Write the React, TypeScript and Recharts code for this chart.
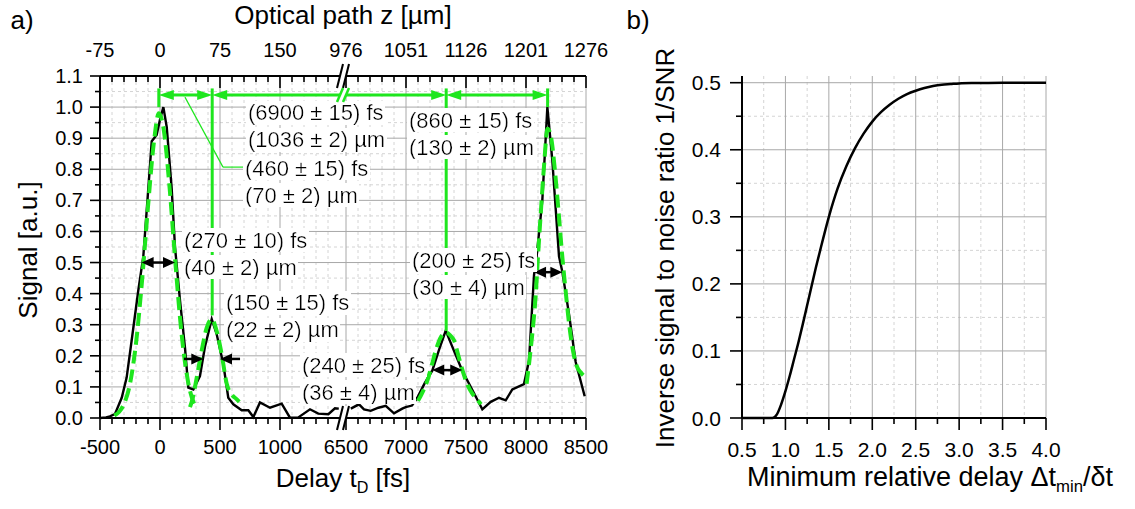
import React from "react";
import {
  CartesianGrid,
  Line,
  LineChart,
  ReferenceDot,
  ReferenceLine,
  XAxis,
  YAxis,
} from "recharts";

const FONT = "'Liberation Sans', Arial, Helvetica, sans-serif";
const GREEN = "#1ee61e";
const MAJOR_GRID = "#a8a8a8";
const MINOR_GRID = "#d4d4d4";

// ---- a) measured signal vs delay [fs], left of the axis break
const signalDelayLeft = [
  -495, -450, -417, -375, -319, -278, -236, -181, -139, -97, -69, -28, 0, 28, 56, 97, 125, 167,
  208, 236, 278, 333, 375, 431, 472, 528, 569, 611, 681, 736, 778, 833, 917, 1014, 1083, 1153,
  1250, 1319, 1403, 1458, 1490,
];
const signalValueLeft = [
  0, 0.002, 0.005, 0.013, 0.065, 0.13, 0.25, 0.41, 0.52, 0.74, 0.89, 0.91, 0.96, 1.0, 0.936, 0.74,
  0.55, 0.377, 0.227, 0.098, 0.092, 0.135, 0.23, 0.318, 0.27, 0.173, 0.065, 0.044, 0.025, 0.025,
  0.003, 0.05, 0.033, 0.046, 0.001, 0.002, 0.028, 0.014, 0.012, 0.031, 0.03,
];
// right of the axis break
const signalDelayRight = [
  6540, 6608, 6650, 6706, 6770, 6831, 6900, 6969, 6997, 7050, 7094, 7156, 7219, 7275, 7331, 7400,
  7469, 7553, 7636, 7706, 7775, 7831, 7886, 7983, 8025, 8067, 8086, 8136, 8178, 8219, 8275, 8303,
  8360, 8414, 8489,
];
const signalValueRight = [
  0.03, 0.044, 0.028, 0.023, 0.033, 0.039, 0.015, 0.03, 0.035, 0.04, 0.065, 0.112, 0.152, 0.219,
  0.281, 0.216, 0.152, 0.09, 0.028, 0.052, 0.065, 0.057, 0.092, 0.109, 0.184, 0.46, 0.51, 0.7, 1.0,
  0.83, 0.52, 0.47, 0.33, 0.18, 0.07,
];

// gaussian fits (green dashed)
const fit1Delay = [-380, -340, -300, -250, -200, -150, -100, -50, -10, 30, 80, 130, 180, 230, 280, 300];
const fit1Value = [0.008, 0.02, 0.045, 0.11, 0.24, 0.44, 0.68, 0.89, 0.98, 0.93, 0.74, 0.49, 0.27, 0.125, 0.05, 0.035];
const fit2Delay = [250, 272, 306, 347, 389, 431, 472, 514, 556, 597, 640, 660];
const fit2Value = [0.035, 0.063, 0.13, 0.216, 0.29, 0.318, 0.28, 0.205, 0.11, 0.076, 0.06, 0.052];
const fit3Delay = [7100, 7140, 7178, 7215, 7247, 7290, 7335, 7370, 7400, 7430, 7456, 7490, 7511, 7550, 7581, 7625];
const fit3Value = [0.055, 0.085, 0.12, 0.17, 0.216, 0.26, 0.275, 0.265, 0.25, 0.21, 0.173, 0.13, 0.108, 0.08, 0.065, 0.044];
const fit4Delay = [8005, 8030, 8055, 8080, 8100, 8125, 8150, 8180, 8210, 8240, 8270, 8300, 8330, 8360, 8390, 8420, 8460, 8500];
const fit4Value = [0.11, 0.19, 0.28, 0.39, 0.52, 0.67, 0.81, 0.93, 0.9, 0.8, 0.67, 0.53, 0.41, 0.3, 0.22, 0.17, 0.145, 0.13];

const delayTicks = [-500, 0, 500, 1000, 6500, 7000, 7500, 8000, 8500];
const delayTickLabels = ["-500", "0", "500", "1000", "6500", "7000", "7500", "8000", "8500"];
const pathTickLabels = ["-75", "0", "75", "150", "976", "1051", "1126", "1201", "1276"];
const signalTicks = [0, 0.1, 0.2, 0.3, 0.4, 0.5, 0.6, 0.7, 0.8, 0.9, 1.0, 1.1];
const signalTickLabels = ["0.0", "0.1", "0.2", "0.3", "0.4", "0.5", "0.6", "0.7", "0.8", "0.9", "1.0", "1.1"];

// peak-to-peak distances (green) and FWHM markers (black)
const extensionDelays = [-10, 435, 7335, 8180];
const extensionBottoms = [1.0, 0.33, 0.28, 1.0];
const dimensionLevel = 1.039;
const extensionTop = 1.06;
const fwhmBars = [
  { from: -153, to: 125, v: 0.5, start: true, end: true },
  { from: 200, to: 361, v: 0.19, start: false, end: true },
  { from: 667, to: 500, v: 0.19, start: false, end: true },
  { from: 7219, to: 7469, v: 0.154, start: true, end: true },
  { from: 8067, to: 8303, v: 0.469, start: true, end: true },
];
const notes = [
  { t: 733, v: 0.981, lines: ["(6900 ± 15) fs", "(1036 ± 2) µm"] },
  { t: 708, v: 0.804, lines: ["(460 ± 15) fs", "(70 ± 2) µm"] },
  { t: 7025, v: 0.958, lines: ["(860 ± 15) fs", "(130 ± 2) µm"] },
  { t: 200, v: 0.572, lines: ["(270 ± 10) fs", "(40 ± 2) µm"] },
  { t: 550, v: 0.37, lines: ["(150 ± 15) fs", "(22 ± 2) µm"] },
  { t: 7050, v: 0.508, lines: ["(200 ± 25) fs", "(30 ± 4) µm"] },
  { t: 1183, v: 0.17, lines: ["(240 ± 25) fs", "(36 ± 4) µm"] },
];

// ---- b) inverse SNR vs minimum relative delay
const snrRatio = [
  0.5, 0.6, 0.7, 0.8, 0.85, 0.9, 0.95, 1.0, 1.05, 1.1, 1.15, 1.2, 1.25, 1.3, 1.35, 1.4, 1.5, 1.6,
  1.7, 1.8, 1.9, 2.0, 2.1, 2.2, 2.3, 2.4, 2.5, 2.6, 2.7, 2.8, 2.9, 3.0, 3.2, 3.5, 4.0,
];
const snrValue = [
  0, 0, 0, 0, 0, 0.005, 0.02, 0.04, 0.063, 0.088, 0.113, 0.14, 0.168, 0.196, 0.224, 0.25, 0.3,
  0.342, 0.375, 0.402, 0.424, 0.442, 0.456, 0.467, 0.476, 0.483, 0.488, 0.492, 0.495, 0.497,
  0.498, 0.499, 0.4995, 0.5, 0.5,
];
const ratioTicks = [0.5, 1, 1.5, 2, 2.5, 3, 3.5, 4];
const ratioTickLabels = ["0.5", "1.0", "1.5", "2.0", "2.5", "3.0", "3.5", "4.0"];
const snrTicks = [0, 0.1, 0.2, 0.3, 0.4, 0.5];
const snrTickLabels = ["0.0", "0.1", "0.2", "0.3", "0.4", "0.5"];

// broken delay axis: 1500..6500 fs is cut out
const BREAK_LO = 1500;
const BREAK_HI = 6500;
const GAP = 50;
const toAxis = (t: number) => (t <= BREAK_LO ? t : t - (BREAK_HI - BREAK_LO) + GAP);
const BREAK_AT = BREAK_LO + GAP / 2;

const pts = (ts: number[], vs: number[], f = (t: number) => t) =>
  ts.map((t, i) => ({ x: f(t), v: vs[i] }));

const withMinors = (majors: number[], step: number, lo: number, hi: number) => {
  const out: number[] = [];
  for (let k = 0; lo + k * step <= hi + 1e-9; k++) out.push(+(lo + k * step).toFixed(4));
  return out.filter((m) => !majors.some((M) => Math.abs(M - m) < 1e-6));
};

const delayAxisMajors = delayTicks.map(toAxis);
const delayAxisMinors = [
  ...withMinors([], 100, -400, 1400).filter((m) => m % 500 !== 0),
  ...withMinors([], 100, 6600, 8400).filter((m) => m % 500 !== 0).map(toAxis),
];
const delayAxisAll = [...delayAxisMajors, ...delayAxisMinors].sort((a, b) => a - b);
const signalMinors = withMinors(signalTicks, 0.05, 0, 1.1);
const ratioMinors = withMinors(ratioTicks, 0.25, 0.5, 4);
const snrMinors = withMinors(snrTicks, 0.05, 0, 0.5);

const idx = (majors: number[], v: number) => majors.findIndex((m) => Math.abs(m - v) < 1e-6);

function xTick(majors: number[], labels: string[], labelDy: number, fontSize: number) {
  return (p: any) => {
    const i = idx(majors, p.payload.value);
    const len = i >= 0 ? 12 : 6;
    return (
      <g>
        <line x1={p.x} x2={p.x} y1={p.y} y2={p.y + len} stroke="#000" strokeWidth={1.6} />
        {i >= 0 && (
          <text x={p.x} y={p.y + labelDy} textAnchor="middle" dominantBaseline="central"
            fontSize={fontSize} fontFamily={FONT} fill="#000">{labels[i]}</text>
        )}
      </g>
    );
  };
}

function yTick(majors: number[], labels: string[], fontSize: number, len: number, gap: number) {
  return (p: any) => {
    const i = idx(majors, p.payload.value);
    const l = i >= 0 ? len : len / 2;
    return (
      <g>
        <line x1={p.x - l} x2={p.x} y1={p.y} y2={p.y} stroke="#000" strokeWidth={1.6} />
        {i >= 0 && (
          <text x={p.x - len - gap} y={p.y} textAnchor="end" dominantBaseline="central"
            fontSize={fontSize} fontFamily={FONT} fill="#000">{labels[i]}</text>
        )}
      </g>
    );
  };
}

function arrowShape(color: string, width: number, headLen: number, headHalf: number, start: boolean, end: boolean) {
  return (p: any) => {
    const { x1, y1, x2, y2 } = p;
    const L = Math.hypot(x2 - x1, y2 - y1) || 1;
    const ux = (x2 - x1) / L;
    const uy = (y2 - y1) / L;
    const head = (tx: number, ty: number, sx: number, sy: number) => {
      const bx = tx - sx * headLen;
      const by = ty - sy * headLen;
      return `${tx},${ty} ${bx - sy * headHalf},${by + sx * headHalf} ${bx + sy * headHalf},${by - sx * headHalf}`;
    };
    const ax = start ? x1 + ux * headLen * 0.8 : x1;
    const ay = start ? y1 + uy * headLen * 0.8 : y1;
    const bx = end ? x2 - ux * headLen * 0.8 : x2;
    const by = end ? y2 - uy * headLen * 0.8 : y2;
    return (
      <g>
        <line x1={ax} y1={ay} x2={bx} y2={by} stroke={color} strokeWidth={width} />
        {start && <polygon points={head(x1, y1, -ux, -uy)} fill={color} />}
        {end && <polygon points={head(x2, y2, ux, uy)} fill={color} />}
      </g>
    );
  };
}

function breakShape(color: string, width: number, h: number) {
  return (p: any) => {
    const { cx, cy } = p;
    return (
      <g>
        <polygon points={`${cx - 6},${cy + h} ${cx},${cy + h} ${cx + 6},${cy - h} ${cx},${cy - h}`} fill="#fff" />
        <line x1={cx - 6} y1={cy + h} x2={cx} y2={cy - h} stroke={color} strokeWidth={width} />
        <line x1={cx} y1={cy + h} x2={cx + 6} y2={cy - h} stroke={color} strokeWidth={width} />
      </g>
    );
  };
}

function noteShape(lines: string[], withDefs: boolean) {
  return (p: any) => (
    <g>
      {withDefs && (
        <defs>
          <filter id="notebg" x="-0.01" y="0.05" width="1.02" height="0.9">
            <feFlood floodColor="#ffffff" />
            <feComposite in="SourceGraphic" operator="over" />
          </filter>
        </defs>
      )}
      {lines.map((s, i) => (
        <text key={i} x={p.cx} y={p.cy + i * 27} dominantBaseline="central" fontSize={22}
          fontFamily={FONT} fill="#000" filter="url(#notebg)">{s}</text>
      ))}
    </g>
  );
}

function SignalChart() {
  const axisLine = { stroke: "#000", strokeWidth: 2 };
  const fits = [
    pts(fit1Delay, fit1Value, toAxis),
    pts(fit2Delay, fit2Value, toAxis),
    pts(fit3Delay, fit3Value, toAxis),
    pts(fit4Delay, fit4Value, toAxis),
  ];
  const dims = extensionDelays.slice(1).map((t, i) => [extensionDelays[i], t]);
  const left = pts(signalDelayLeft, signalValueLeft, toAxis);
  const right = pts(signalDelayRight, signalValueRight, toAxis);
  return (
    <LineChart width={620} height={509} margin={{ top: 36, right: 34, bottom: 41, left: 40 }}>
      <CartesianGrid stroke={MINOR_GRID} strokeDasharray="3 3" verticalValues={delayAxisMinors}
        horizontalValues={signalMinors} />
      <CartesianGrid stroke={MAJOR_GRID} verticalValues={delayAxisMajors} horizontalValues={signalTicks} />
      <XAxis dataKey="x" type="number" domain={[toAxis(-500), toAxis(8500)]}
        ticks={delayAxisAll} interval={0} allowDataOverflow
        height={50} tickSize={0} tickMargin={0} tickLine={false} axisLine={axisLine}
        tick={xTick(delayAxisMajors, delayTickLabels, 29, 20)} />
      <XAxis xAxisId="top" orientation="top" dataKey="x" type="number"
        domain={[toAxis(-500), toAxis(8500)]} allowDataOverflow
        ticks={delayAxisAll} interval={0}
        height={40} tickSize={0} tickMargin={0} tickLine={false} axisLine={axisLine}
        tick={xTick(delayAxisMajors, pathTickLabels, -26, 20)} />
      <YAxis type="number" domain={[0, 1.1]} ticks={[...signalTicks, ...signalMinors].sort((a, b) => a - b)}
        interval={0} width={60} tickSize={0} tickMargin={0} tickLine={false} axisLine={axisLine}
        tick={yTick(signalTicks, signalTickLabels, 20, 10, 7)} />
      {/* invisible copy so the optical-path axis has a series to scale */}
      <Line xAxisId="top" data={left} dataKey="v" stroke="none" dot={false} activeDot={false}
        isAnimationActive={false} />
      <Line data={left} dataKey="v" type="linear" stroke="#000"
        strokeWidth={2.4} dot={false} isAnimationActive={false} />
      <Line data={right} dataKey="v" type="linear" stroke="#000"
        strokeWidth={2.4} dot={false} isAnimationActive={false} />
      {fits.map((d, i) => (
        <Line key={i} data={d} dataKey="v" type="monotone" stroke={GREEN} strokeWidth={4}
          strokeDasharray="13 6" dot={false} isAnimationActive={false} />
      ))}
      {extensionDelays.map((t, i) => (
        <ReferenceLine key={"e" + i} ifOverflow="visible" stroke={GREEN} strokeWidth={3}
          segment={[{ x: toAxis(t), y: extensionTop }, { x: toAxis(t), y: extensionBottoms[i] }]} />
      ))}
      {dims.map(([a, b], i) => (
        <ReferenceLine key={"d" + i} ifOverflow="visible"
          segment={[{ x: toAxis(a), y: dimensionLevel }, { x: toAxis(b), y: dimensionLevel }]}
          shape={arrowShape(GREEN, 3, 15, 5, true, true)} />
      ))}
      <ReferenceLine ifOverflow="visible" stroke={GREEN} strokeWidth={1.2}
        segment={[{ x: 208, y: 1.032 }, { x: 525, y: 0.807 }]} />
      <ReferenceLine ifOverflow="visible" stroke={GREEN} strokeWidth={1.2}
        segment={[{ x: 525, y: 0.807 }, { x: 700, y: 0.807 }]} />
      {fwhmBars.map((b, i) => (
        <ReferenceLine key={"f" + i} ifOverflow="visible"
          segment={[{ x: toAxis(b.from), y: b.v }, { x: toAxis(b.to), y: b.v }]}
          shape={arrowShape("#000", 2.5, 12, 5.5, b.start, b.end)} />
      ))}
      {notes.map((n, i) => (
        <ReferenceDot key={"n" + i} x={toAxis(n.t)} y={n.v} ifOverflow="visible"
          shape={noteShape(n.lines, i === 0)} />
      ))}
      <ReferenceDot x={BREAK_AT} y={0} ifOverflow="visible" shape={breakShape("#000", 2, 12)} />
      <ReferenceDot x={BREAK_AT} y={1.1} ifOverflow="visible" shape={breakShape("#000", 2, 12)} />
      <ReferenceDot x={BREAK_AT} y={dimensionLevel} ifOverflow="visible" shape={breakShape(GREEN, 2.5, 7)} />
    </LineChart>
  );
}

function SnrChart() {
  const axisLine = { stroke: "#000", strokeWidth: 2 };
  return (
    <LineChart width={515} height={509} margin={{ top: 76, right: 89, bottom: 41, left: 62 }}>
      <CartesianGrid stroke={MINOR_GRID} strokeDasharray="3 3" verticalValues={ratioMinors}
        horizontalValues={snrMinors} />
      <CartesianGrid stroke={MAJOR_GRID} verticalValues={ratioTicks} horizontalValues={snrTicks} />
      <XAxis dataKey="x" type="number" domain={[0.5, 4]}
        ticks={[...ratioTicks, ...ratioMinors].sort((a, b) => a - b)} interval={0}
        height={50} tickSize={0} tickMargin={0} tickLine={false} axisLine={axisLine}
        tick={xTick(ratioTicks, ratioTickLabels, 31, 21)} />
      <YAxis type="number" domain={[0, 0.51]} ticks={[...snrTicks, ...snrMinors].sort((a, b) => a - b)}
        interval={0} width={60} tickSize={0} tickMargin={0} tickLine={false} axisLine={axisLine}
        tick={yTick(snrTicks, snrTickLabels, 21, 12, 9)} />
      <Line data={pts(snrRatio, snrValue)} dataKey="v" type="monotone" stroke="#000" strokeWidth={2.5}
        dot={false} isAnimationActive={false} />
    </LineChart>
  );
}

function Title(props: { x: number; y: number; size?: number; rotate?: number; children: React.ReactNode }) {
  const { x, y, size = 26, rotate = 0, children } = props;
  return (
    <div
      style={{
        position: "absolute",
        left: x,
        top: y,
        transform: `translate(-50%, -50%) rotate(${rotate}deg)`,
        fontSize: size,
        lineHeight: 1,
        whiteSpace: "nowrap",
      }}
    >
      {children}
    </div>
  );
}

const sub = { fontSize: "0.62em", verticalAlign: "-0.35em" };

export default function App() {
  return (
    <div
      style={{
        position: "absolute",
        left: 0,
        top: 0,
        width: 1135,
        height: 509,
        background: "#fff",
        fontFamily: FONT,
        color: "#000",
        overflow: "hidden",
      }}
    >
      <div style={{ position: "absolute", left: 0, top: 0 }}>
        <SignalChart />
      </div>
      <div style={{ position: "absolute", left: 620, top: 0 }}>
        <SnrChart />
      </div>
      <Title x={22} y={20}>a)</Title>
      <Title x={638} y={20}>b)</Title>
      <Title x={343} y={15}>Optical path z [µm]</Title>
      <Title x={343} y={480}>
        Delay t<span style={sub}>D</span> [fs]
      </Title>
      <Title x={28} y={250} rotate={-90}>Signal [a.u.]</Title>
      <Title x={665} y={248} rotate={-90}>Inverse signal to noise ratio 1/SNR</Title>
      <Title x={930} y={480} size={27}>
        Minimum relative delay Δt<span style={sub}>min</span>/δt
      </Title>
    </div>
  );
}
